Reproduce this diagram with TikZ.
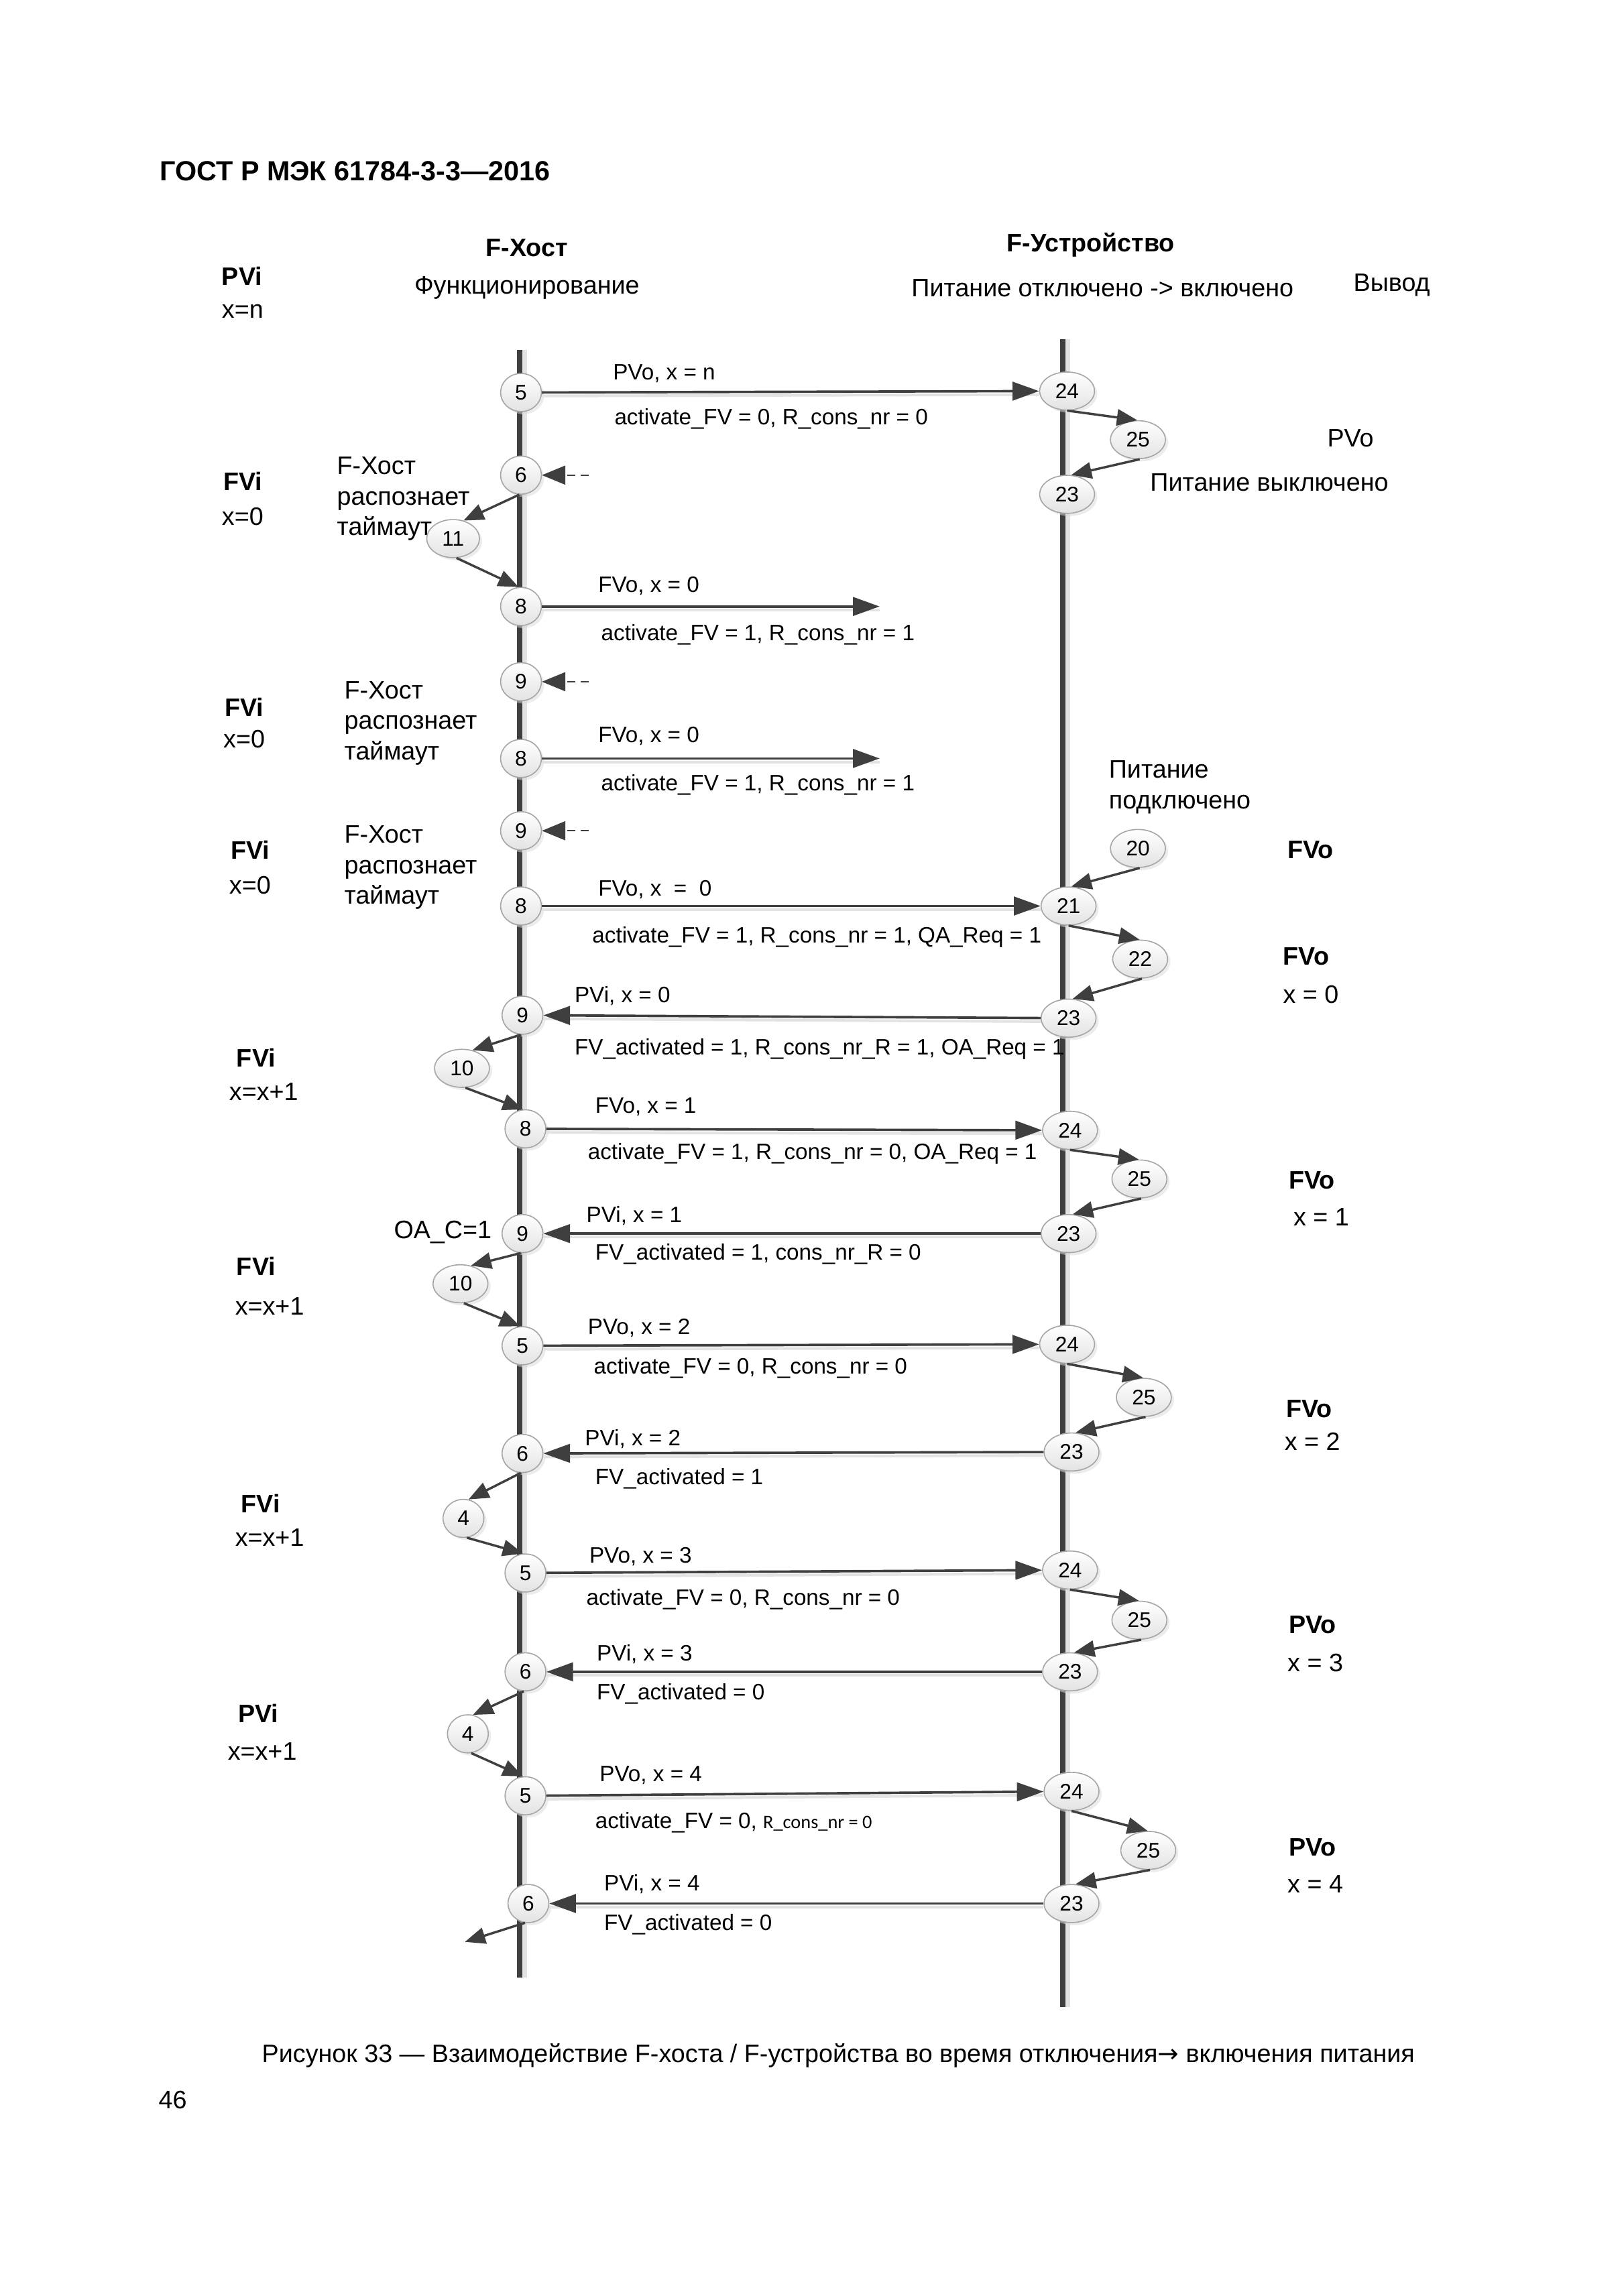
\documentclass[tikz,border=0pt]{standalone}
\usepackage{fontspec}
\setmainfont{Liberation Sans}
\newfontfamily\calfont{Carlito}
\newfontfamily\arrowfont{DejaVu Sans}
\usetikzlibrary{arrows.meta,shapes.geometric,shadows}
\definecolor{dk}{HTML}{3F3F3F}
\begin{document}
\begin{tikzpicture}[x=0.1909mm, y=-0.1909mm,
  lb/.style={font=\fontsize{9.3}{11.2}\selectfont, inner sep=0pt},
  bl/.style={font=\bfseries\fontsize{9.3}{11.2}\selectfont, inner sep=0pt},
  hdr/.style={font=\bfseries\fontsize{10.2}{12}\selectfont, inner sep=0pt},
  ms/.style={font=\fontsize{8.2}{10}\selectfont, inner sep=0pt, anchor=west},
  st/.style={ellipse, draw=gray!70, line width=0.4pt, top color=white, bottom color=gray!22,
    minimum width=15pt, minimum height=14pt, inner xsep=2.8pt, inner ysep=0.5pt,
    font=\fontsize{7.8}{9}\selectfont,
    drop shadow={shadow xshift=1pt, shadow yshift=-1pt, fill=gray!28}},
  life/.style={draw=dk, line width=2pt,
    preaction={draw=gray!22, line width=1.7pt, transform canvas={xshift=1.8pt}}},
  msg/.style={draw=dk, line width=0.9pt, -{Triangle[length=9.8pt,width=6.8pt]},
    preaction={draw=gray!22, line width=1pt, -, transform canvas={yshift=-1.3pt}}},
  side/.style={draw=dk, line width=0.85pt, -{Triangle[length=7.5pt,width=6pt]}},
  stub/.style={draw=dk, line width=0.4pt, densely dashed,
    -{Triangle[length=8.6pt,width=7pt,fill=dk]}}
]
\fill[white] (0,0) rectangle (1100,1556);
\useasboundingbox (0,0) rectangle (1100,1556);

% header
\node[hdr, anchor=west] (gost) at (108,116) {ГОСТ Р МЭК 61784-3-3—2016};
\node[bl] (thost) at (357,168) {F-Хост};
\node[lb] (shost) at (357,195) {Функционирование};
\node[bl] (tdev) at (739,166) {F-Устройство};
\node[lb] (sdev) at (747,195) {Питание отключено -> включено};
\node[lb] (vyvod) at (943,193) {Вывод};

% lifelines
\coordinate (ht) at (352,237);
\coordinate (hb) at (352,1340);
\coordinate (dt) at (720,230);
\coordinate (db) at (720,1360);
\draw[life] (ht) -- (hb);
\draw[life] (dt) -- (db);

% left column labels
\node[bl,anchor=west] (l1a) at (150,187) {PVi};
\node[lb,anchor=west] (l1b) at (150,211) {x=n};
\node[bl,anchor=west] (l2a) at (151,326) {FVi};
\node[lb,anchor=west] (l2b) at (150,350) {x=0};
\node[bl,anchor=west] (l3a) at (152,479) {FVi};
\node[lb,anchor=west] (l3b) at (151,501) {x=0};
\node[bl,anchor=west] (l4a) at (156,576) {FVi};
\node[lb,anchor=west] (l4b) at (155,600) {x=0};
\node[bl,anchor=west] (l5a) at (160,717) {FVi};
\node[lb,anchor=west] (l5b) at (155,740) {x=x+1};
\node[bl,anchor=west] (l6a) at (160,858) {FVi};
\node[lb,anchor=west] (l6b) at (159,885) {x=x+1};
\node[bl,anchor=west] (l7a) at (163,1019) {FVi};
\node[lb,anchor=west] (l7b) at (159,1042) {x=x+1};
\node[bl,anchor=west] (l8a) at (161,1161) {PVi};
\node[lb,anchor=west] (l8b) at (154,1187) {x=x+1};

% timeout texts
\node[lb,anchor=west,align=left] (t1) at (228,338) {F-Хост\\распознает\\таймаут};
\node[lb,anchor=west,align=left] (t2) at (233,490) {F-Хост\\распознает\\таймаут};
\node[lb,anchor=west,align=left] (t3) at (233,588) {F-Хост\\распознает\\таймаут};
\node[lb] (oac) at (300,835) {OA\_C=1};

% right column labels
\node[lb] (r1a) at (915,297) {PVo};
\node[lb] (r1b) at (860,327) {Питание выключено};
\node[lb,anchor=west,align=left] (r2) at (751,533.5) {Питание\\подключено};
\node[bl,anchor=west] (r3) at (872,576) {FVo};
\node[bl,anchor=west] (r4a) at (869,648) {FVo};
\node[lb,anchor=west] (r4b) at (869,674) {x = 0};
\node[bl,anchor=west] (r5a) at (873,800) {FVo};
\node[lb,anchor=west] (r5b) at (876,825) {x = 1};
\node[bl,anchor=west] (r6a) at (871,955) {FVo};
\node[lb,anchor=west] (r6b) at (870,977) {x = 2};
\node[bl,anchor=west] (r7a) at (873,1101) {PVo};
\node[lb,anchor=west] (r7b) at (872,1127) {x = 3};
\node[bl,anchor=west] (r8a) at (873,1252) {PVo};
\node[lb,anchor=west] (r8b) at (872,1277) {x = 4};

% host states
\node[st] (h1) at (353,266) {5};
\node[st] (h2) at (353,322) {6};
\node[st] (n11) at (307,365) {11};
\node[st] (h3) at (353,411) {8};
\node[st] (h4) at (353,462) {9};
\node[st] (h5) at (353,514) {8};
\node[st] (h6) at (353,563) {9};
\node[st] (h7) at (353,614) {8};
\node[st] (h8) at (354,688) {9};
\node[st] (n10a) at (313,724) {10};
\node[st] (h9) at (356,765) {8};
\node[st] (h10) at (354,836) {9};
\node[st] (n10b) at (312,870) {10};
\node[st] (h11) at (354,912) {5};
\node[st] (h12) at (354,985) {6};
\node[st] (n4a) at (314,1029) {4};
\node[st] (h13) at (356,1066) {5};
\node[st] (h14) at (356,1133) {6};
\node[st] (n4b) at (317,1175) {4};
\node[st] (h15) at (356,1217) {5};
\node[st] (h16) at (358,1290) {6};

% device states
\node[st] (d1) at (723,265) {24};
\node[st] (s25a) at (771,298) {25};
\node[st] (d2) at (723,335) {23};
\node[st] (s20) at (771,575) {20};
\node[st] (d3) at (724,614) {21};
\node[st] (s22) at (772.5,650) {22};
\node[st] (d4) at (724,690) {23};
\node[st] (d5) at (725,766) {24};
\node[st] (s25b) at (772,799) {25};
\node[st] (d6) at (724,836) {23};
\node[st] (d7) at (723,911) {24};
\node[st] (s25c) at (775,947) {25};
\node[st] (d8) at (726,984) {23};
\node[st] (d9) at (725,1064) {24};
\node[st] (s25d) at (772,1098) {25};
\node[st] (d10) at (725,1133) {23};
\node[st] (d11) at (726,1214) {24};
\node[st] (s25e) at (778,1254) {25};
\node[st] (d12) at (726,1290) {23};

% message labels
\node[ms] (m1a) at (415,253) {PVo, x = n};
\node[ms] (m1b) at (416,284) {activate\_FV = 0, R\_cons\_nr = 0};
\node[ms] (m2a) at (405,397) {FVo, x = 0};
\node[ms] (m2b) at (407,430) {activate\_FV = 1, R\_cons\_nr = 1};
\node[ms] (m3a) at (405,499) {FVo, x = 0};
\node[ms] (m3b) at (407,532) {activate\_FV = 1, R\_cons\_nr = 1};
\node[ms] (m4a) at (405,603) {FVo, x\ \ =\ \ 0};
\node[ms] (m4b) at (401,635) {activate\_FV = 1, R\_cons\_nr = 1, QA\_Req = 1};
\node[ms] (m5a) at (389,675) {PVi, x = 0};
\node[ms] (m5b) at (389,711) {FV\_activated = 1, R\_cons\_nr\_R = 1, OA\_Req = 1};
\node[ms] (m6a) at (403,750) {FVo, x = 1};
\node[ms] (m6b) at (398,782) {activate\_FV = 1, R\_cons\_nr = 0, OA\_Req = 1};
\node[ms] (m7a) at (397,824) {PVi, x = 1};
\node[ms] (m7b) at (403,850) {FV\_activated = 1, cons\_nr\_R = 0};
\node[ms] (m8a) at (398,900) {PVo, x = 2};
\node[ms] (m8b) at (402,927) {activate\_FV = 0, R\_cons\_nr = 0};
\node[ms] (m9a) at (396,975) {PVi, x = 2};
\node[ms] (m9b) at (403,1002) {FV\_activated = 1};
\node[ms] (m10a) at (399,1055) {PVo, x = 3};
\node[ms] (m10b) at (397,1084) {activate\_FV = 0, R\_cons\_nr = 0};
\node[ms] (m11a) at (404,1121) {PVi, x = 3};
\node[ms] (m11b) at (404,1148) {FV\_activated = 0};
\node[ms] (m12a) at (406,1203) {PVo, x = 4};
\node[ms] (m12b) at (403,1235) {activate\_FV = 0, {\calfont\fontsize{7}{8}\selectfont R\_cons\_nr = 0}};
\node[ms] (m13a) at (409,1277) {PVi, x = 4};
\node[ms] (m13b) at (409,1304) {FV\_activated = 0};

% free ends
\coordinate (e1) at (596,411);
\coordinate (e2) at (596,514);
\coordinate (e3) at (315,1316);
\coordinate (c1) at (399,322);
\coordinate (c2) at (399,462);
\coordinate (c3) at (399,563);

% connectors
\draw[msg] (h1) -- (d1);
\draw[side] (d1.-90) -- (s25a.92);
\draw[side] (s25a.-85) -- (d2.78);
\draw[stub] (c1) -- (h2);
\draw[side] (h2.-95) -- (n11.60);
\draw[side] (n11.-80) -- (h3.97);
\draw[msg] (h3) -- (e1);
\draw[stub] (c2) -- (h4);
\draw[msg] (h5) -- (e2);
\draw[stub] (c3) -- (h6);
\draw[side] (s20.-85) -- (d3.82);
\draw[msg] (h7) -- (d3);
\draw[side] (d3.-90) -- (s22.92);
\draw[side] (s22.-85) -- (d4.78);
\draw[msg] (d4) -- (h8);
\draw[side] (h8.-95) -- (n10a.60);
\draw[side] (n10a.-80) -- (h9.97);
\draw[msg] (h9) -- (d5);
\draw[side] (d5.-90) -- (s25b.92);
\draw[side] (s25b.-85) -- (d6.78);
\draw[msg] (d6) -- (h10);
\draw[side] (h10.-95) -- (n10b.60);
\draw[side] (n10b.-80) -- (h11.97);
\draw[msg] (h11) -- (d7);
\draw[side] (d7.-90) -- (s25c.92);
\draw[side] (s25c.-85) -- (d8.78);
\draw[msg] (d8) -- (h12);
\draw[side] (h12.-95) -- (n4a.75);
\draw[side] (n4a.-80) -- (h13.97);
\draw[msg] (h13) -- (d9);
\draw[side] (d9.-90) -- (s25d.92);
\draw[side] (s25d.-85) -- (d10.78);
\draw[msg] (d10) -- (h14);
\draw[side] (h14.-95) -- (n4b.75);
\draw[side] (n4b.-80) -- (h15.97);
\draw[msg] (h15) -- (d11);
\draw[side] (d11.-90) -- (s25e.92);
\draw[side] (s25e.-85) -- (d12.78);
\draw[msg] (d12) -- (h16);
\draw[side] (h16.-100) -- (e3);

% caption
\node[font=\fontsize{9.3}{11}\selectfont, inner sep=0pt] (cap) at (568,1393) {Рисунок 33 — Взаимодействие F-хоста / F-устройства во время отключения{\arrowfont →} включения питания};
\node[font=\fontsize{9.3}{11}\selectfont, inner sep=0pt] (pg) at (117,1423) {46};
\end{tikzpicture}
\end{document}
